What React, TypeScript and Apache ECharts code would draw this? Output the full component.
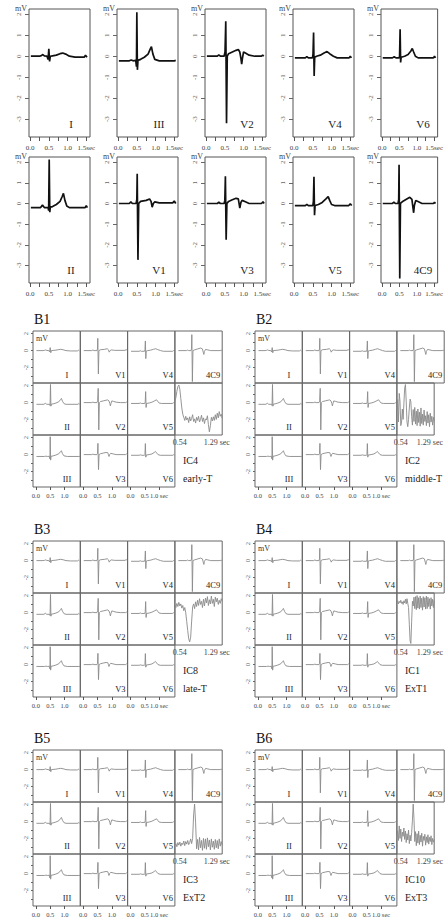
import React, { useEffect, useRef } from 'react';
import * as echarts from 'echarts';

// ---------- DATA ----------
// lead waveforms: [time (s), amplitude (mV)]
const LEAD_I = [[0.02,0],[0.25,0],[0.3,0.03],[0.34,0.08],[0.38,0.02],[0.45,0],[0.48,-0.15],[0.5,0.35],[0.52,-0.25],[0.54,0],[0.6,0.02],[0.7,0.05],[0.8,0.12],[0.87,0.15],[0.95,0.1],[1.05,0],[1.2,-0.04],[1.45,-0.04],[1.48,0.05],[1.52,-0.05]];
const LEAD_II = [[0.02,-0.2],[0.28,-0.2],[0.33,-0.08],[0.38,-0.2],[0.48,-0.2],[0.495,-0.35],[0.51,2.13],[0.525,-0.42],[0.54,-0.18],[0.6,-0.15],[0.7,-0.05],[0.8,0.1],[0.86,0.35],[0.89,0.49],[0.93,0.15],[0.98,-0.12],[1.05,-0.2],[1.47,-0.2],[1.5,-0.1],[1.53,-0.2]];
const LEAD_III = [[0.02,-0.22],[0.3,-0.22],[0.35,-0.18],[0.4,-0.22],[0.47,-0.2],[0.49,-0.5],[0.5,2.1],[0.515,-0.65],[0.53,-0.2],[0.6,-0.15],[0.7,-0.05],[0.8,0.1],[0.86,0.35],[0.89,0.45],[0.93,0.1],[0.98,-0.15],[1.1,-0.22],[1.5,-0.22],[1.54,-0.2]];
const LEAD_V1 = [[0.02,0],[0.3,0],[0.34,0.08],[0.38,0],[0.48,0],[0.5,0.2],[0.51,1.44],[0.53,-2.73],[0.55,0],[0.6,0.1],[0.75,0.15],[0.84,0.22],[0.88,0.1],[0.91,-0.18],[0.94,0],[0.98,0.08],[1.1,0.03],[1.46,0.03],[1.5,0.12],[1.54,0]];
const LEAD_V2 = [[0.02,0],[0.3,0],[0.34,0.06],[0.38,0],[0.48,0],[0.505,0.2],[0.525,1.67],[0.545,-3.2],[0.565,0],[0.6,0.12],[0.7,0.2],[0.8,0.28],[0.86,0.32],[0.9,0.2],[0.93,-0.1],[0.95,-0.38],[0.97,-0.1],[1.0,0.2],[1.05,0.15],[1.15,0.05],[1.3,0],[1.48,0],[1.51,0.06],[1.54,0]];
const LEAD_V3 = [[0.02,0],[0.3,0],[0.34,0.06],[0.38,0],[0.48,0],[0.5,0.15],[0.515,1.32],[0.535,-1.76],[0.555,0],[0.6,0.1],[0.7,0.18],[0.8,0.25],[0.86,0.22],[0.88,0],[0.9,-0.22],[0.93,0.05],[0.96,0.15],[1.05,0.08],[1.15,0],[1.48,0],[1.52,0.08],[1.55,0]];
const LEAD_V4 = [[0.02,-0.08],[0.3,-0.08],[0.34,-0.02],[0.38,-0.08],[0.49,-0.08],[0.505,0.1],[0.52,1.13],[0.535,-0.94],[0.55,-0.05],[0.6,0],[0.7,0.05],[0.8,0.15],[0.88,0.22],[0.95,0.12],[1.05,0],[1.15,-0.08],[1.47,-0.08],[1.5,0],[1.53,-0.08]];
const LEAD_V5 = [[0.02,-0.1],[0.3,-0.1],[0.34,-0.04],[0.38,-0.1],[0.5,-0.1],[0.515,0.1],[0.53,1.29],[0.545,-0.57],[0.56,-0.1],[0.65,-0.05],[0.75,0.05],[0.85,0.22],[0.91,0.33],[0.95,0.15],[1.0,-0.05],[1.08,-0.1],[1.46,-0.1],[1.5,-0.02],[1.54,-0.1]];
const LEAD_V6 = [[0.02,-0.08],[0.3,-0.08],[0.35,-0.03],[0.4,-0.08],[0.49,-0.08],[0.505,0],[0.52,1.29],[0.535,-0.3],[0.55,-0.05],[0.65,0],[0.75,0.08],[0.83,0.25],[0.87,0.37],[0.91,0.2],[0.96,0],[1.04,-0.08],[1.48,-0.08],[1.51,0],[1.54,-0.08]];
const LEAD_4C9 = [[0.02,0],[0.3,0],[0.34,0.06],[0.38,0],[0.46,0],[0.48,0.2],[0.49,1.87],[0.51,-3.63],[0.53,0],[0.58,0.08],[0.7,0.2],[0.8,0.3],[0.86,0.2],[0.89,-0.2],[0.91,-0.45],[0.93,-0.1],[0.97,0.14],[1.05,0.08],[1.15,0],[1.48,0],[1.51,0.06],[1.54,0]];

const TOP_ROW1 = ['I', 'III', 'V2', 'V4', 'V6'];
const TOP_ROW2 = ['II', 'V1', 'V3', 'V5', '4C9'];
const B_LEAD_ROWS = [['I', 'V1', 'V4', '4C9'], ['II', 'V2', 'V5'], ['III', 'V3', 'V6']];

const TOP_X_TICKS = [0, 0.25, 0.5, 0.75, 1.0, 1.25, 1.5];
const TOP_X_LABELS = [0, 0.5, 1.0, 1.5];
const TOP_Y_TICKS = [-3, -2, -1, 0, 1, 2];
const B_X_LABELS = [0, 0.5, 1.0];
const B_Y_TICKS = [-3, -2, -1, 0, 1, 2];
const B_Y_LABELS = [-2, 0, 2];
const IC_X_LABELS = [0.54, 1.29];

const B_NAMES = ['B1', 'B2', 'B3', 'B4', 'B5', 'B6'];
const IC_NAMES = ['IC4', 'IC2', 'IC8', 'IC1', 'IC3', 'IC10'];
const PHASES = ['early-T', 'middle-T', 'late-T', 'ExT1', 'ExT2', 'ExT3'];

// independent component traces (sample times, arbitrary units)
const IC_T = [0.44,0.46,0.48,0.50,0.52,0.54,0.56,0.58,0.60,0.62,0.64,0.66,0.68,0.70,0.72,0.74,0.76,0.78,0.80,0.82,0.84,0.86,0.88,0.90,0.92,0.94,0.96,0.98,1.00,1.02,1.04,1.06,1.08,1.10,1.12,1.14,1.16,1.18,1.20,1.22,1.24,1.26,1.28,1.30,1.32,1.34,1.36,1.38,1.40];
const IC_B1 = [6.5,7.2,8.4,9.3,9.6,8.8,7.0,5.2,4.0,3.4, 2.8,3.6,2.9,3.3,2.4,3.5,2.7,3.2,3.9,2.6, 3.1,2.3,3.4,2.8,3.6,2.5,3.0,3.8,2.6,3.3, 2.2,3.1,2.9,3.7,2.0,0.6,1.8,3.4,2.7,3.5, 2.8,3.9,3.0,4.2,3.3,4.5,3.6,4.0,3.2];
const IC_B2 = [4.8,6.8,2.5,8.0,6.5,1.8,2.5,5.0,3.0,6.0, 9.0,9.7,6.5,2.5,1.6,3.0,5.2,6.9,6.4,3.5, 1.9,4.9,2.6,5.3,2.1,4.6,1.8,5.0,2.4,4.4, 1.7,5.2,2.2,4.0,1.9,4.8,2.6,3.7,1.8,4.5, 2.3,3.9,1.6,4.2,2.5,3.6,1.9,3.4,2.6];
const IC_B3 = [7.7,7.2,8.0,7.4,8.2,7.5,7.9,7.1,7.6,6.6, 7.2,6.2,4.5,2.8,1.2,0.6,1.5,4.6,7.3,7.9, 7.0,8.3,7.4,8.6,7.6,8.9,7.8,8.4,7.2,8.8, 7.5,9.0,8.1,9.3,7.6,8.7,7.9,9.4,8.0,8.8, 7.4,9.2,8.3,9.0,7.8,8.6,8.0,8.9,8.4];
const IC_B4 = [8.2,8.5,7.9,8.4,8.1,8.6,8.0,8.3,7.8,8.5, 8.1,8.8,7.9,8.9,8.0,7.2,4.0,0.8,0.3,4.5, 8.4,7.5,9.2,7.0,9.3,6.8,9.5,7.1,9.1,6.9, 9.4,7.2,9.0,6.7,9.3,7.3,9.1,6.9,9.4,7.0, 9.2,7.4,8.9,6.9,9.1,7.5,8.8,7.2,8.6];
const IC_B5 = [1.6,2.0,1.4,2.2,1.7,2.3,1.5,2.1,1.8,2.5, 1.6,2.4,1.9,2.6,1.8,2.2,2.9,2.0,3.0,7.5, 9.6,6.0,1.0,2.8,0.8,3.2,1.2,2.6,0.7,3.0, 1.1,2.9,0.9,3.1,1.4,2.7,0.8,2.9,1.3,2.5, 0.9,2.8,1.2,2.6,1.0,2.9,1.5,2.4,1.7];
const IC_B6 = [3.2,4.5,2.6,5.4,3.0,4.8,2.4,4.2,3.4,5.0, 2.8,4.4,2.2,3.9,2.7,4.6,2.0,3.6,2.5,4.1, 6.5,9.6,6.8,2.4,4.3,1.6,3.9,2.1,4.4,1.8, 3.6,2.3,4.0,1.5,3.4,2.6,3.8,1.7,3.3,2.2, 3.7,1.9,3.2,2.4,3.5,1.8,3.0,2.3,2.8];

const LEADS: Record<string, number[][]> = {
  I: LEAD_I, II: LEAD_II, III: LEAD_III, V1: LEAD_V1, V2: LEAD_V2, V3: LEAD_V3,
  V4: LEAD_V4, V5: LEAD_V5, V6: LEAD_V6, '4C9': LEAD_4C9,
};
const IC_DATA = [IC_B1, IC_B2, IC_B3, IC_B4, IC_B5, IC_B6];

// ---------- LAYOUT / STYLE ----------
const SERIF = '"Liberation Serif", "DejaVu Serif", serif';
const TOP_LEFTS = [29, 117, 205, 293, 381];
const TOP_W = 61;
const TOP_ROWS = [{ top: 9, h: 128 }, { top: 157, h: 126 }];
const B_LEFTS = [33, 255];
const B_TOPS = [331, 541, 750];
const CW = 47.3;
const CH = 52;

function buildOption() {
  const grid: any[] = [];
  const xAxis: any[] = [];
  const yAxis: any[] = [];
  const series: any[] = [];
  const graphic: any[] = [];

  const txt = (x: number, y: number, text: string, size: number, align = 'center', color = '#222', vAlign = 'middle') => {
    graphic.push({
      type: 'text', x, y, silent: true, z: 10,
      style: { text, fontSize: size, fontFamily: SERIF, fill: color, align, verticalAlign: vAlign },
    });
  };

  const addCell = (c: any) => {
    const i = grid.length;
    grid.push({
      left: c.left, top: c.top, width: c.w, height: c.h,
      show: !!c.border, borderColor: c.border || 'transparent', borderWidth: 1,
      backgroundColor: 'transparent',
    });
    xAxis.push({
      type: 'value', gridIndex: i, min: c.xMin, max: c.xMax,
      axisLine: { show: false, onZero: false },
      splitLine: { show: false },
      axisTick: c.xTicks ? { show: true, customValues: c.xTicks, length: c.xTickLen || 3, inside: false, lineStyle: { color: '#555', width: 1 } } : { show: false },
      axisLabel: c.xLabels ? {
        show: true, customValues: c.xLabels, formatter: c.xFmt, fontSize: c.xFont, color: '#444',
        fontFamily: SERIF, margin: c.xMargin, hideOverlap: false, showMinLabel: true, showMaxLabel: true,
      } : { show: false },
    });
    yAxis.push({
      type: 'value', gridIndex: i, min: c.yMin, max: c.yMax,
      axisLine: { show: false, onZero: false },
      splitLine: { show: false },
      axisTick: c.yTicks ? { show: true, customValues: c.yTicks, length: c.yTickLen || 3, inside: false, lineStyle: { color: '#666', width: 1 } } : { show: false },
      axisLabel: c.yLabels ? {
        show: true, customValues: c.yLabels, formatter: (v: number) => String(v), fontSize: c.yFont, color: '#666',
        fontFamily: SERIF, margin: c.yMargin, rotate: 90, hideOverlap: false, showMinLabel: true, showMaxLabel: true,
      } : { show: false },
    });
    series.push({
      type: 'line', xAxisIndex: i, yAxisIndex: i, data: c.data, symbol: 'none', showSymbol: false,
      lineStyle: { color: c.color, width: c.lw }, silent: true, clip: true, z: 3,
    });
  };

  // ----- top ECG panels -----
  [TOP_ROW1, TOP_ROW2].forEach((row, r) => {
    const { top, h } = TOP_ROWS[r];
    row.forEach((lead, k) => {
      const left = TOP_LEFTS[k];
      addCell({
        left, top, w: TOP_W, h, border: '#555',
        xMin: -0.03, xMax: 1.6, yMin: -3.85, yMax: 2.25,
        xTicks: TOP_X_TICKS, xTickLen: 4, xLabels: TOP_X_LABELS, xFont: 7, xMargin: 7,
        xFmt: (v: number) => (v === 1.5 ? '1.5sec' : v.toFixed(1)),
        yTicks: TOP_Y_TICKS, yTickLen: 4, yLabels: TOP_Y_TICKS, yFont: 7, yMargin: 7,
        data: LEADS[lead], color: '#111', lw: 1.7,
      });
      txt(left + 42, top + h - 13, lead, 11);
      txt(left - 8, top - 1, 'mV', 8, 'center', '#444');
    });
  });

  // ----- B panels -----
  B_NAMES.forEach((name, b) => {
    const left0 = B_LEFTS[b % 2];
    const top0 = B_TOPS[Math.floor(b / 2)];
    txt(left0 + 1, top0 - 12, name, 14, 'left', '#111');
    B_LEAD_ROWS.forEach((row, r) => {
      row.forEach((lead, c) => {
        const left = left0 + c * CW;
        const top = top0 + r * CH;
        addCell({
          left, top, w: CW, h: CH, border: '#666',
          xMin: -0.1, xMax: 1.55, yMin: -3.8, yMax: 2.3,
          xTicks: r === 2 && c < 3 ? B_X_LABELS : null, xTickLen: 3,
          xLabels: r === 2 && c < 3 ? B_X_LABELS : null, xFont: 6.5, xMargin: 5,
          xFmt: (v: number) => (c === 2 && v === 1 ? '1.0 sec' : v.toFixed(1)),
          yTicks: c === 0 ? B_Y_TICKS : null, yTickLen: 2,
          yLabels: c === 0 ? B_Y_LABELS : null, yFont: 6.5, yMargin: 4,
          data: LEADS[lead], color: '#8a8a8a', lw: 0.9,
        });
        if (lead === 'I' || lead === 'II' || lead === 'III') {
          txt(left + 34, top + 44, lead, 8.5);
        } else {
          txt(left + CW - 2, top + 44, lead, 8.5, 'right');
        }
      });
    });
    txt(left0 + 3, top0 + 7, 'mV', 8, 'left', '#333');
    // zoomed independent component panel
    addCell({
      left: left0 + 3 * CW, top: top0 + CH, w: CW, h: CH, border: '#666',
      xMin: 0.44, xMax: 1.40, yMin: 0, yMax: 10,
      xLabels: IC_X_LABELS, xFont: 8, xMargin: 3,
      xFmt: (v: number) => (v === 0.54 ? '0.54' : '1.29 sec'),
      data: IC_T.map((t, k) => [t, IC_DATA[b][k]]), color: '#8a8a8a', lw: 0.9,
    });
    txt(left0 + 150, top0 + 129, IC_NAMES[b], 10, 'left', '#222');
    txt(left0 + 150, top0 + 147, PHASES[b], 10, 'left', '#222');
  });

  return { animation: false, backgroundColor: '#fff', grid, xAxis, yAxis, series, graphic };
}

export default function App() {
  const ref = useRef<HTMLDivElement>(null);
  useEffect(() => {
    const chart = echarts.init(ref.current!, null, { renderer: 'svg' });
    chart.setOption(buildOption() as any);
    return () => chart.dispose();
  }, []);
  return (
    <div
      ref={ref}
      style={{ position: 'absolute', left: 0, top: 0, width: 446, height: 921, background: '#fff' }}
    />
  );
}
